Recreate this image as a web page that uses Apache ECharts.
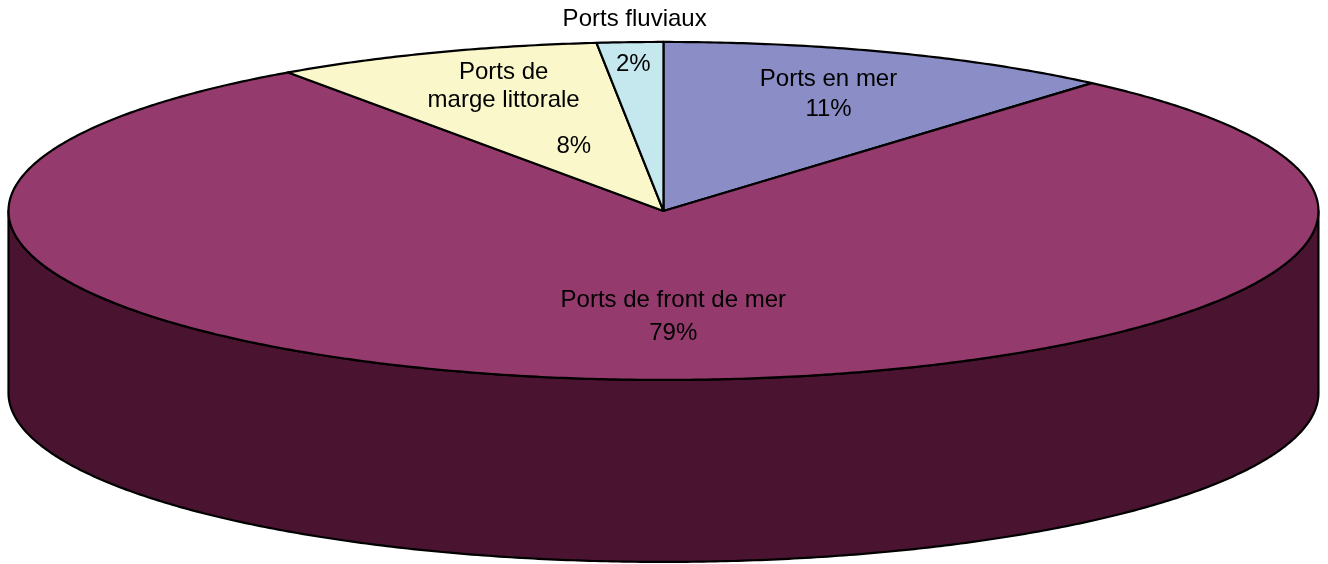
<!DOCTYPE html>
<html>
<head>
<meta charset="utf-8">
<script src="https://cdn.jsdelivr.net/npm/echarts@6/dist/echarts.min.js"></script>
<style>
  html, body { margin: 0; padding: 0; background: #ffffff; }
  #chart { width: 1328px; height: 564px; }
</style>
</head>
<body>
<div id="chart"></div>
<script>
// Répartition des ports par type de site
const categories = ['Ports en mer', 'Ports de front de mer', 'Ports de marge littorale', 'Ports fluviaux'];
const values = [11.35, 78.94, 8.08, 1.63];

// Label text lines: category lines, then the percentage
const labelLines = [
  ['Ports en mer'],
  ['Ports de front de mer'],
  ['Ports de', 'marge littorale'],
  ['Ports fluviaux']
];

// Styling
const topColors = ['#8b8dc6', '#953a6d', '#faf7ca', '#c5e8ef'];
const sideColors = ['#4a4c7a', '#4a1431', '#8f8c60', '#6f9099'];

// Pie placement (fractions of the canvas) and thickness
const pie = { cx: 0.4996, cy: 0.374, rx: 0.4932, ry: 0.2996, depth: 0.3227 };

// Label anchors, relative to the ellipse: x = cx + u*rx, y = cy + v*ry
// name block and percentage may be placed separately
const labelLayout = [
  { name: [0.252, -0.692], pct: null, lh: 30 },
  { name: [0.015, 0.627], pct: null, lh: 33 },
  { name: [-0.244, -0.740], pct: [-0.137, -0.385], lh: 28 },
  { name: [-0.044, -1.136], pct: [-0.046, -0.870], lh: 30 }
];

const total = values.reduce((a, b) => a + b, 0);
const startAngles = [];
(function () {
  let acc = 0;
  values.forEach(v => { startAngles.push(acc / total * 360); acc += v; });
})();

function pct(v) { return Math.round(v / total * 100) + '%'; }

const FONT = '"Liberation Sans", Arial, sans-serif';
const FS = 24;
const LW = 2.2;

function renderSlice(params, api) {
  const i = params.dataIndex;
  const W = api.getWidth(), H = api.getHeight();
  const cx = pie.cx * W, cy = pie.cy * H, rx = pie.rx * W, ry = pie.ry * H, d = pie.depth * H;
  const v = api.value(0);
  const a0 = startAngles[i];
  const a1 = a0 + v / total * 360;
  const pt = (deg, dy) => {
    const t = deg * Math.PI / 180;
    return [cx + rx * Math.sin(t), cy - ry * Math.cos(t) + (dy || 0)];
  };
  const arc = (from, to, dy) => {
    const n = Math.max(2, Math.ceil(Math.abs(to - from) / 0.5));
    const out = [];
    for (let k = 0; k <= n; k++) out.push(pt(from + (to - from) * k / n, dy));
    return out;
  };
  const children = [];
  // Visible side wall: front half of the rim (90..270 degrees)
  const s0 = Math.max(a0, 90), s1 = Math.min(a1, 270);
  if (s1 > s0) {
    const topArc = arc(s0, s1, 0);
    const botArc = arc(s1, s0, d);
    children.push({
      type: 'polygon',
      shape: { points: topArc.concat(botArc) },
      style: { fill: sideColors[i], stroke: '#000', lineWidth: LW, lineJoin: 'round' },
      z2: 1
    });
  }
  // Top face
  children.push({
    type: 'polygon',
    shape: { points: [[cx, cy]].concat(arc(a0, a1, 0)) },
    style: { fill: topColors[i], stroke: '#000', lineWidth: LW, lineJoin: 'round' },
    z2: 2
  });
  // Labels
  const L = labelLayout[i];
  const place = (uv) => [cx + uv[0] * rx, cy + uv[1] * ry];
  const nameLines = labelLines[i].slice();
  const p = pct(v);
  const textStyle = (t) => ({ text: t, fill: '#000', font: FS + 'px ' + FONT,
                              align: 'center', verticalAlign: 'middle', lineHeight: L.lh });
  if (L.pct) {
    const q1 = place(L.name);
    children.push({ type: 'text', x: q1[0], y: q1[1], z2: 10, style: textStyle(nameLines.join('\n')) });
    const q2 = place(L.pct);
    children.push({ type: 'text', x: q2[0], y: q2[1], z2: 10, style: textStyle(p) });
  } else {
    const q = place(L.name);
    children.push({ type: 'text', x: q[0], y: q[1], z2: 10, style: textStyle(nameLines.concat([p]).join('\n')) });
  }
  return { type: 'group', children: children };
}

const chart = echarts.init(document.getElementById('chart'), null, { renderer: 'canvas' });
chart.setOption({
  backgroundColor: '#ffffff',
  animation: false,
  series: [{
    type: 'custom',
    coordinateSystem: 'none',
    renderItem: renderSlice,
    data: values.map((v, i) => ({ name: categories[i], value: [v] }))
  }]
});
</script>
</body>
</html>
